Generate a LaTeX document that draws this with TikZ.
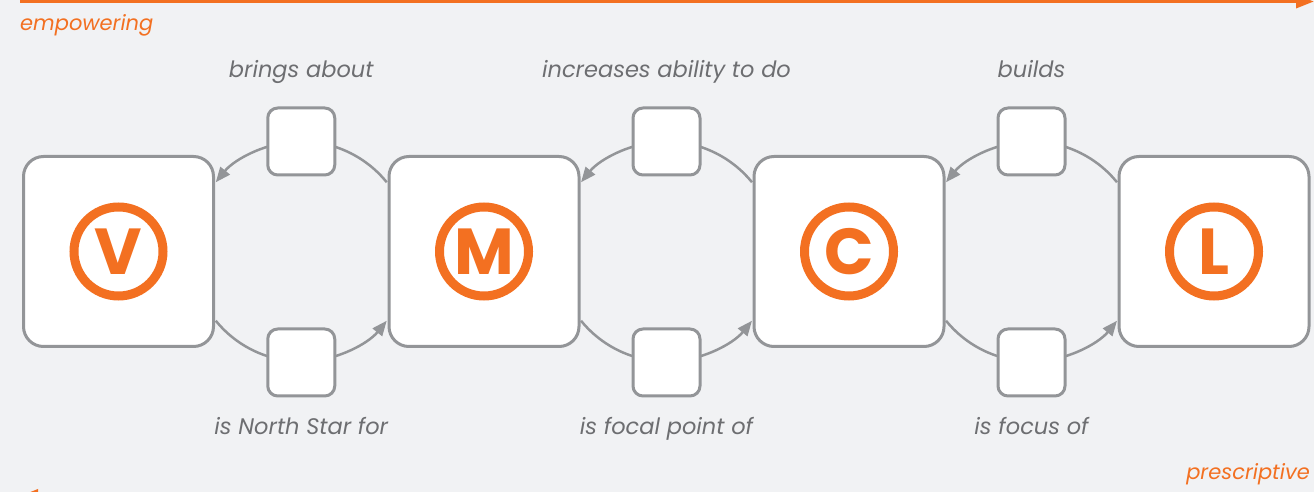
\documentclass[tikz,border=0pt]{standalone}
\usepackage{fontspec}
\setmainfont{Poppins}
\usetikzlibrary{arrows.meta,calc}
\definecolor{bg}{HTML}{F1F2F4}
\definecolor{vorange}{HTML}{F37021}
\definecolor{edgegray}{HTML}{939598}
\definecolor{txtgray}{HTML}{6D6E71}
\begin{document}
\begin{tikzpicture}[x=1pt,y=1pt,
  bigbox/.style={draw=edgegray,fill=white,line width=3pt,rounded corners=20pt,minimum size=190pt,inner sep=0pt},
  smallbox/.style={draw=edgegray,fill=white,line width=3pt,rounded corners=10pt,minimum size=67pt,inner sep=0pt},
  ring/.style={circle,draw=vorange,line width=9pt,minimum size=89pt,inner sep=0pt,text=vorange,font=\fontsize{65}{65}\selectfont\bfseries},
  conn/.style={draw=edgegray,line width=2.5pt,-{Triangle[length=15pt,width=12pt]}},
  lbl/.style={text=txtgray,font=\fontsize{22.5}{26}\selectfont\itshape,inner sep=0pt,anchor=base},
  axis/.style={draw=vorange,line width=3.5pt,-{Triangle[length=18pt,width=13pt]}},
  axlbl/.style={text=vorange,font=\fontsize{21}{25}\selectfont\itshape,inner sep=0pt}]
\fill[bg] (0,0) rectangle (1314,492);
\useasboundingbox (0,0) rectangle (1314,492);

% axes
\coordinate (topstart) at (20,490.5);
\coordinate (topend) at (1314,490.5);
\draw[axis] (topstart) -- (topend);
\coordinate (botstart) at (1294,-4);
\coordinate (botend) at (20,-4);
\draw[axis] (botstart) -- (botend);
\node[axlbl,anchor=base west] (emp) at (20,461) {empowering};
\node[axlbl,anchor=base east] (pres) at (1310,12) {prescriptive};

% big boxes
\node[bigbox] (V) at (118.5,240.5) {};
\node[bigbox] (M) at (484,240.5) {};
\node[bigbox] (C) at (849,240.5) {};
\node[bigbox] (L) at (1214,240.5) {};
\node[ring] (lv) at (V) {V};
\node[ring] (lm) at (M) {M};
\node[ring] (lc) at (C) {C};
\node[ring] (ll) at (L) {L};

% circle centres
\coordinate (c1) at ($(V.east)!0.5!(M.west)$);
\coordinate (c2) at ($(M.east)!0.5!(C.west)$);
\coordinate (c3) at ($(C.east)!0.5!(L.west)$);

% connectors
\foreach \c in {c1,c2,c3}{
  \draw[conn] ($(\c)+(39:110)$) arc[start angle=39,end angle=141,radius=110];
  \draw[conn] ($(\c)+(219:110)$) arc[start angle=219,end angle=321,radius=110];
}

% small boxes
\node[smallbox] (t1) at ($(c1)+(0,110)$) {};
\node[smallbox] (b1) at ($(c1)+(0,-111)$) {};
\node[smallbox] (t2) at ($(c2)+(0,110)$) {};
\node[smallbox] (b2) at ($(c2)+(0,-111)$) {};
\node[smallbox] (t3) at ($(c3)+(0,110)$) {};
\node[smallbox] (b3) at ($(c3)+(0,-111)$) {};

% labels
\node[lbl] (l1) at (c1 |- 0,414) {brings about};
\node[lbl] (l2) at (c2 |- 0,414) {increases ability to do};
\node[lbl] (l3) at (c3 |- 0,414) {builds};
\node[lbl] (l4) at (c1 |- 0,57) {is North Star for};
\node[lbl] (l5) at (c2 |- 0,57) {is focal point of};
\node[lbl] (l6) at (c3 |- 0,57) {is focus of};
\end{tikzpicture}
\end{document}
